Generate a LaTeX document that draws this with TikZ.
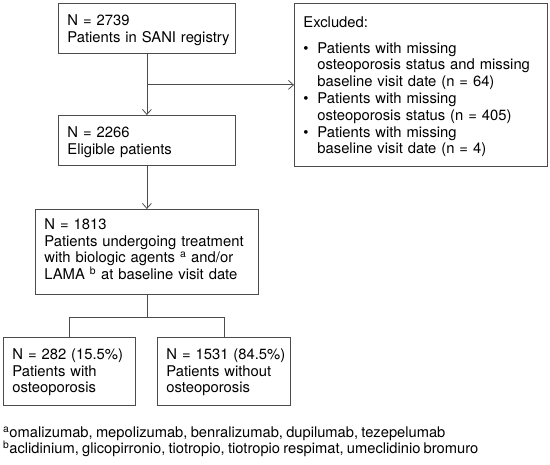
\documentclass[tikz,border=0pt]{standalone}
\usepackage{fontspec}
\setmainfont{TeX Gyre Heros}[WordSpace=0.8]
\usetikzlibrary{arrows.meta}
\begin{document}
\begin{tikzpicture}[x=1pt,y=-1pt,
   box/.style={draw=black!70, line width=0.8pt, anchor=north west, align=left,
               inner xsep=9pt, inner ysep=0pt, text height=22pt,
               font=\fontsize{14.8}{16.8}\selectfont},
   note/.style={anchor=base west, inner sep=0pt, font=\fontsize{14.7}{14}\selectfont},
   link/.style={draw=black!70, line width=0.8pt},
   arr/.style={link, -{Straight Barb[length=5pt,width=9pt]}}]
\useasboundingbox (0,0) rectangle (550,465);

\path node[box, text width=159pt, text depth=28pt]  (reg)  at (58,3)
            {N = 2739\\\mbox{Patients in SANI registry}}
      node[box, text width=235pt, text depth=139pt, text height=24pt] (excl) at (294,3)
            {Excluded:\\[9pt]
             \makebox[14pt][l]{\textbullet}Patients with missing\\
             \hspace*{14pt}osteoporosis status and missing\\
             \hspace*{14pt}baseline visit date (n = 64)\\
             \makebox[14pt][l]{\textbullet}Patients with missing\\
             \hspace*{14pt}osteoporosis status (n = 405)\\
             \makebox[14pt][l]{\textbullet}Patients with missing\\
             \hspace*{14pt}baseline visit date (n = 4)}
      node[box, text width=159pt, text depth=28pt]  (elig) at (58,115)
            {N = 2266\\Eligible patients}
      node[box, text width=205pt, text depth=65pt, text height=20pt] (treat) at (35,209)
            {N = 1813\\\mbox{Patients undergoing treatment}\\
             with biologic agents \textsuperscript{a} and/or\\
             LAMA \textsuperscript{b} at baseline visit date}
      node[box, text width=114pt, text depth=46pt]  (osteo) at (3,337)
            {\mbox{N = 282 (15.5\%)}\\Patients with\\osteoporosis}
      node[box, text width=115pt, text depth=46pt]  (nonosteo) at (157,337)
            {\mbox{N = 1531 (84.5\%)}\\Patients without\\osteoporosis}
      node[note] (notea) at (3,438)
            {\textsuperscript{a}omalizumab, mepolizumab, benralizumab, dupilumab, tezepelumab}
      node[note] (noteb) at (3,454)
            {\textsuperscript{b}aclidinium, glicopirronio, tiotropio, tiotropio respimat, umeclidinio bromuro};

\coordinate (split) at (reg.south |- excl.west);
\coordinate (fork)  at ([yshift=-23pt]treat.south);

\draw[arr]  (reg) -- (elig);
\draw[arr]  (split) -- (excl);
\draw[arr]  (elig) -- (treat);
\draw[link] (treat) -- (fork);
\draw[link] (fork) -| (osteo);
\draw[link] (fork) -| (nonosteo);
\end{tikzpicture}
\end{document}
